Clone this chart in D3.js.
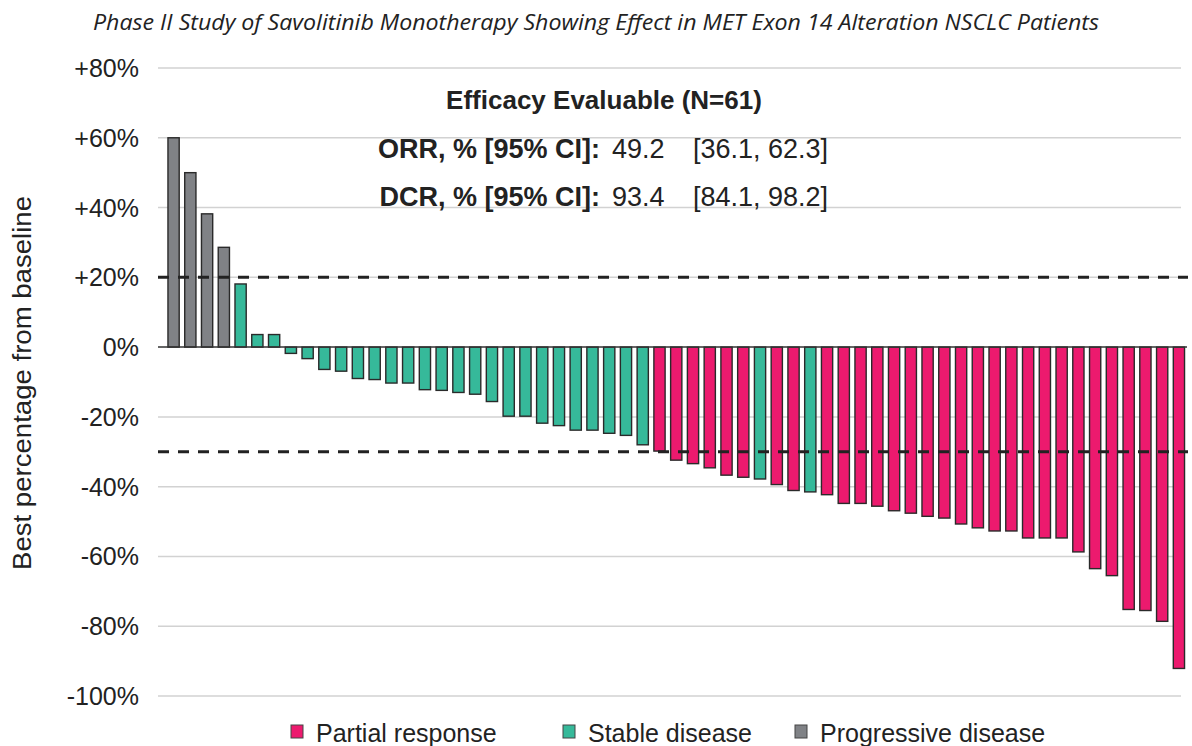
<!DOCTYPE html>
<html>
<head>
<meta charset="utf-8">
<script src="https://cdn.jsdelivr.net/npm/d3@7"></script>
<style>
  body { margin: 0; background: #fff; }
  svg { display: block; }
</style>
</head>
<body>
<div class="chart"></div>
<script>

// Data, one bar per patient
var values = [60, 50, 38.2, 28.6, 18.1, 3.6, 3.6, -1.8, -3.3, -6.4, -6.9, -9.0, -9.3, -10.3, -10.3,
  -12.2, -12.4, -13.0, -13.5, -15.6, -19.8, -19.8, -21.8, -22.5, -23.8, -23.8, -24.7, -25.3, -28.0,
  -29.8, -32.4, -33.4, -34.6, -36.7, -37.3, -37.8, -39.4, -41.1, -41.5, -42.3, -44.8, -44.8, -45.6,
  -46.9, -47.6, -48.5, -49.0, -50.7, -51.8, -52.7, -52.7, -54.7, -54.7, -54.7, -58.7, -63.5, -65.5,
  -75.2, -75.5, -78.6, -92.1];

// PD = progressive, SD = stable, PR = partial response
var responses = ["PD", "PD", "PD", "PD",
  "SD", "SD", "SD", "SD", "SD", "SD", "SD", "SD", "SD", "SD", "SD", "SD", "SD", "SD", "SD",
  "SD", "SD", "SD", "SD", "SD", "SD", "SD", "SD", "SD", "SD",
  "PR", "PR", "PR", "PR", "PR", "PR", "SD", "PR", "PR", "SD",
  "PR", "PR", "PR", "PR", "PR", "PR", "PR", "PR", "PR", "PR", "PR", "PR", "PR", "PR", "PR",
  "PR", "PR", "PR", "PR", "PR", "PR", "PR"];

var yTicks = [80, 60, 40, 20, 0, -20, -40, -60, -80, -100];
var thresholds = [20, -30];

var legendItems = [
  {key: "PR", label: "Partial response"},
  {key: "SD", label: "Stable disease"},
  {key: "PD", label: "Progressive disease"}
];

var colors = {PR: "#ec1a6e", SD: "#36b99a", PD: "#808286"};

var width = 1192, height = 746;
var sans = "'Liberation Sans', Arial, sans-serif";

var svg = d3.select(".chart")
  .append("svg")
  .attr("width", width)
  .attr("height", height);

var x = d3.scaleBand()
  .domain(d3.range(values.length))
  .range([165.2, 1187.3])
  .paddingInner(0.33)
  .paddingOuter(0.165);

var y = d3.scaleLinear()
  .domain([-100, 80])
  .range([696, 68]);

// title
svg.append("text")
  .attr("x", 596)
  .attr("y", 30)
  .attr("text-anchor", "middle")
  .attr("textLength", 1006)
  .attr("lengthAdjust", "spacingAndGlyphs")
  .style("font-family", "'Open Sans', sans-serif")
  .style("font-style", "italic")
  .style("font-size", "21px")
  .style("fill", "#222")
  .text("Phase II Study of Savolitinib Monotherapy Showing Effect in MET Exon 14 Alteration NSCLC Patients");

// gridlines
svg.append("g")
  .selectAll("line")
  .data(yTicks.filter(function(d) { return d != 0; }))
  .enter().append("line")
  .attr("x1", 158)
  .attr("x2", 1181)
  .attr("y1", function(d) { return y(d); })
  .attr("y2", function(d) { return y(d); })
  .attr("stroke", "#d2d2d2")
  .attr("stroke-width", 1.5);

// y axis labels
svg.append("g")
  .selectAll("text")
  .data(yTicks)
  .enter().append("text")
  .attr("x", 139)
  .attr("y", function(d) { return y(d) + 9; })
  .attr("text-anchor", "end")
  .style("font-family", sans)
  .style("font-size", "25px")
  .style("fill", "#222")
  .text(function(d) { return (d > 0 ? "+" : "") + d + "%"; });

svg.append("text")
  .attr("transform", "translate(31," + 383 + ") rotate(-90)")
  .attr("text-anchor", "middle")
  .attr("textLength", 374)
  .attr("lengthAdjust", "spacingAndGlyphs")
  .style("font-family", sans)
  .style("font-size", "26px")
  .style("fill", "#222")
  .text("Best percentage from baseline");

// bars
svg.append("g")
  .selectAll("rect")
  .data(values)
  .enter().append("rect")
  .attr("x", function(d, i) { return x(i); })
  .attr("width", x.bandwidth())
  .attr("y", function(d) { return d > 0 ? y(d) : y(0); })
  .attr("height", function(d) { return Math.abs(y(d) - y(0)); })
  .attr("fill", function(d, i) { return colors[responses[i]]; })
  .attr("stroke", "#2a2a2a")
  .attr("stroke-width", 1.4);

// zero line
svg.append("line")
  .attr("x1", 158)
  .attr("x2", 1187)
  .attr("y1", y(0))
  .attr("y2", y(0))
  .attr("stroke", "#333")
  .attr("stroke-width", 1.5);

// threshold dashes
svg.append("g")
  .selectAll("line")
  .data(thresholds)
  .enter().append("line")
  .attr("x1", 158)
  .attr("x2", 1188)
  .attr("y1", function(d) { return y(d); })
  .attr("y2", function(d) { return y(d); })
  .attr("stroke", "#222")
  .attr("stroke-width", 3)
  .attr("stroke-dasharray", "11,9");

// efficacy box text
svg.append("text")
  .attr("x", 604)
  .attr("y", 109)
  .attr("text-anchor", "middle")
  .style("font-family", sans)
  .style("font-weight", "bold")
  .style("font-size", "26px")
  .style("fill", "#222")
  .text("Efficacy Evaluable (N=61)");

var stats = [
  {label: "ORR, % [95% CI]:", val: "49.2", ci: "[36.1, 62.3]", y: 158},
  {label: "DCR, % [95% CI]:", val: "93.4", ci: "[84.1, 98.2]", y: 206}
];

stats.forEach(function(s) {
  svg.append("text")
    .attr("x", 600)
    .attr("y", s.y)
    .attr("text-anchor", "end")
    .style("font-family", sans)
    .style("font-weight", "bold")
    .style("font-size", "27px")
    .style("fill", "#222")
    .text(s.label);
  svg.append("text")
    .attr("x", 612)
    .attr("y", s.y)
    .style("font-family", sans)
    .style("font-size", "27px")
    .style("fill", "#222")
    .text(s.val);
  svg.append("text")
    .attr("x", 828)
    .attr("y", s.y)
    .attr("text-anchor", "end")
    .style("font-family", sans)
    .style("font-size", "27px")
    .style("fill", "#222")
    .text(s.ci);
});

// legend
var legendX = [291, 563, 795];
var legend = svg.append("g")
  .selectAll("g")
  .data(legendItems)
  .enter().append("g")
  .attr("transform", function(d, i) { return "translate(" + legendX[i] + ",725)"; });

legend.append("rect")
  .attr("width", 12)
  .attr("height", 13)
  .attr("fill", function(d) { return colors[d.key]; })
  .attr("stroke", "#444")
  .attr("stroke-width", 1);

legend.append("text")
  .attr("x", 25)
  .attr("y", 17)
  .style("font-family", sans)
  .style("font-size", "25px")
  .style("fill", "#222")
  .text(function(d) { return d.label; });

</script>
</body>
</html>
